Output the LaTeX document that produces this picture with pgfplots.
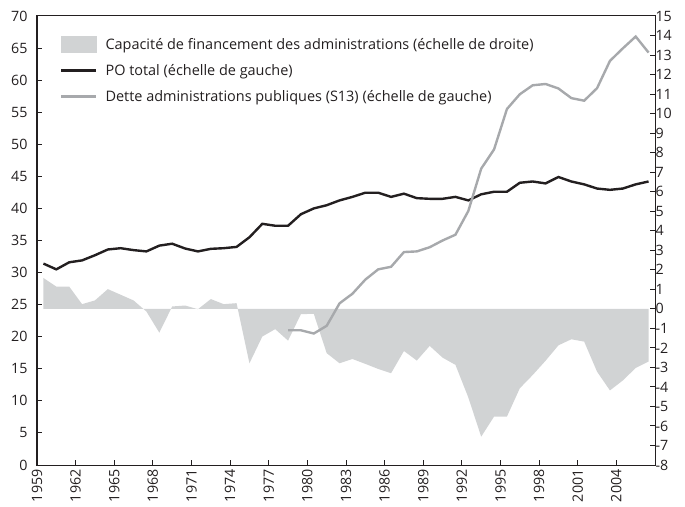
\documentclass[border=0pt]{standalone}
\usepackage{fontspec}
\setmainfont{Open Sans}
\usepackage{pgfplots}
\pgfplotsset{compat=1.18}
\definecolor{fillg}{RGB}{209,211,212}
\definecolor{lblack}{RGB}{35,31,32}
\definecolor{lgray}{RGB}{167,169,172}
\pgfplotsset{
  mylineleg/.style={legend image code/.code={\draw[##1] (0bp,0bp) -- (35bp,0bp);}},
  myarealeg/.style={legend image code/.code={\fill[fillg] (0bp,-8bp) rectangle (35bp,8bp);}},
  common/.style={
    scale only axis, width=618bp, height=449bp,
    xmin=1959, xmax=2007,
    axis line style={lblack, line width=1bp},
    tick style={lblack, line width=1bp},
    major tick length=5bp,
    tick align=inside,
    /pgf/number format/assume math mode=true,
    /pgf/number format/1000 sep={},
    ticklabel style={font=\fontsize{14.3}{16}\selectfont, text=lblack},
  }
}
\begin{document}
\begin{tikzpicture}[font=\fontsize{14.3}{16}\selectfont]
\begin{axis}[common,
  ymin=-8, ymax=15, ytick={-8,...,15},
  ytick pos=right, yticklabel pos=right,
  yticklabel style={xshift=-3bp},
  xtick=\empty,
]
\addplot[fill=fillg, draw=none] coordinates {
(1959.5,0) (1959.5,1.58) (1960.5,1.14) (1961.5,1.14) (1962.5,0.24) (1963.5,0.43)
(1964.5,1.01) (1965.5,0.72) (1966.5,0.43) (1967.5,-0.14) (1968.5,-1.22)
(1969.5,0.12) (1970.5,0.17) (1971.5,-0.02) (1972.5,0.50) (1973.5,0.24)
(1974.5,0.29) (1975.5,-2.79) (1976.5,-1.42) (1977.5,-1.04) (1978.5,-1.63)
(1979.5,-0.27) (1980.5,-0.26) (1981.5,-2.27) (1982.5,-2.79) (1983.5,-2.57)
(1984.5,-2.82) (1985.5,-3.08) (1986.5,-3.30) (1987.5,-2.16) (1988.5,-2.65)
(1989.5,-1.90) (1990.5,-2.50) (1991.5,-2.87) (1992.5,-4.54) (1993.5,-6.55)
(1994.5,-5.52) (1995.5,-5.52) (1996.5,-4.07) (1997.5,-3.39) (1998.5,-2.66)
(1999.5,-1.87) (2000.5,-1.56) (2001.5,-1.68) (2002.5,-3.22) (2003.5,-4.18)
(2004.5,-3.67) (2005.5,-3.03) (2006.5,-2.70) (2006.5,0)
} -- cycle;
\end{axis}
\begin{axis}[common,
  ymin=0, ymax=70, ytick={0,5,...,70},
  ytick pos=left,
  yticklabel style={xshift=-6bp},
  xtick={1959,1962,...,2004}, xtick pos=bottom,
  xticklabel style={rotate=90, anchor=east, xshift=-1bp},
  legend style={at={(0,1)}, anchor=north west, xshift=20bp, yshift=-18bp,
    draw=none, fill=none, row sep=9.5bp, column sep=6bp,
    font=\fontsize{14.5}{16}\selectfont, text=lblack,
    nodes={inner sep=2bp}},
  legend cell align=left,
]
\addlegendimage{myarealeg}
\addlegendentry{Capacité de financement des administrations (échelle de droite)}
\addplot[lblack, line width=2.4bp, mylineleg] coordinates {
(1959.5,31.4) (1960.5,30.5) (1961.5,31.6) (1962.5,31.9) (1963.5,32.7)
(1964.5,33.6) (1965.5,33.8) (1966.5,33.5) (1967.5,33.3) (1968.5,34.2)
(1969.5,34.5) (1970.5,33.75) (1971.5,33.3) (1972.5,33.7) (1973.5,33.8)
(1974.5,34.0) (1975.5,35.5) (1976.5,37.6) (1977.5,37.3) (1978.5,37.3)
(1979.5,39.1) (1980.5,40.0) (1981.5,40.5) (1982.5,41.25) (1983.5,41.8)
(1984.5,42.45) (1985.5,42.45) (1986.5,41.8) (1987.5,42.3) (1988.5,41.6)
(1989.5,41.5) (1990.5,41.5) (1991.5,41.8) (1992.5,41.25) (1993.5,42.2)
(1994.5,42.6) (1995.5,42.6) (1996.5,44.0) (1997.5,44.2) (1998.5,43.9)
(1999.5,44.9) (2000.5,44.2) (2001.5,43.75) (2002.5,43.1) (2003.5,42.9)
(2004.5,43.1) (2005.5,43.75) (2006.5,44.2)
};
\addlegendentry{PO total (échelle de gauche)}
\addplot[lgray, line width=2.4bp, mylineleg] coordinates {
(1978.5,21.0) (1979.5,21.0) (1980.5,20.5) (1981.5,21.7) (1982.5,25.2)
(1983.5,26.7) (1984.5,28.9) (1985.5,30.5) (1986.5,30.9) (1987.5,33.2)
(1988.5,33.3) (1989.5,33.95) (1990.5,35.0) (1991.5,35.9) (1992.5,39.6)
(1993.5,46.2) (1994.5,49.2) (1995.5,55.5) (1996.5,57.8) (1997.5,59.2)
(1998.5,59.4) (1999.5,58.7) (2000.5,57.2) (2001.5,56.8) (2002.5,58.75)
(2003.5,63.0) (2004.5,64.95) (2005.5,66.8) (2006.5,64.3)
};
\addlegendentry{Dette administrations publiques (S13) (échelle de gauche)}
\end{axis}
\pgfresetboundingbox
\path[use as bounding box] (-37bp,-42bp) rectangle (648bp,465bp);
\end{tikzpicture}
\end{document}
